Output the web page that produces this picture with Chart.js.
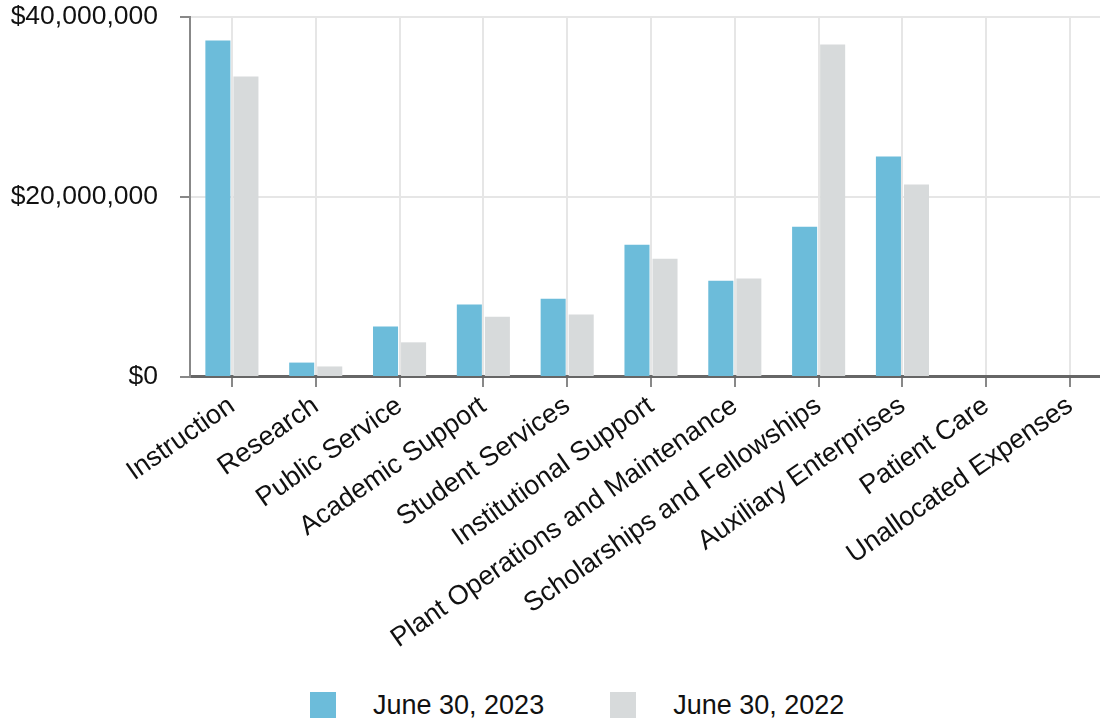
<!DOCTYPE html>
<html>
<head>
<meta charset="utf-8">
<script src="https://cdn.jsdelivr.net/npm/chart.js@4/dist/chart.umd.min.js"></script>
<style>
  html, body { margin: 0; padding: 0; background: #fff; overflow: hidden; width: 1100px; height: 723px; }
  #wrap { position: absolute; left: 0; top: 0; width: 1112px; height: 664px; }
  #legend { position: absolute; left: 310px; top: 692px; display: flex; align-items: center;
            font-family: "Liberation Sans", Arial, sans-serif; font-size: 27px; color: #111; }
  .box { width: 26px; height: 26px; margin-right: 37px; }
  .item { display: flex; align-items: center; margin-right: 66px; line-height: 26px; }
</style>
</head>
<body>
<div id="wrap"><canvas id="chart"></canvas></div>
<div id="legend"></div>
<script>
var categories = [
    'Instruction', 'Research', 'Public Service', 'Academic Support', 'Student Services',
    'Institutional Support', 'Plant Operations and Maintenance', 'Scholarships and Fellowships',
    'Auxiliary Enterprises', 'Patient Care', 'Unallocated Expenses'
];
var fy2023 = [37400000, 1600000, 5600000, 8050000, 8700000, 14700000, 10700000, 16700000, 24500000, 0, 0];
var fy2022 = [33400000, 1170000, 3850000, 6700000, 6950000, 13150000, 10950000, 36950000, 21400000, 0, 0];
var yTicks = [0, 20000000, 40000000];

var blue = 'rgb(108, 188, 218)';
var grey = 'rgb(215, 218, 219)';
var font = '"Liberation Sans", Arial, sans-serif';

const data = {
    labels: categories,
    datasets: [
        { label: 'June 30, 2023', backgroundColor: blue, data: fy2023 },
        { label: 'June 30, 2022', backgroundColor: grey, data: fy2022 }
    ]
};

const config = {
    type: 'bar',
    data: data,
    options: {
        responsive: true,
        maintainAspectRatio: false,
        animation: false,
        datasets: { bar: { categoryPercentage: 0.669, barPercentage: 0.893 } },
        layout: { padding: { left: 10, top: 17, right: 0, bottom: 6 } },
        plugins: { legend: { display: false }, tooltip: { enabled: false } },
        scales: {
            x: {
                grid: { offset: false, color: '#e6e6e6', lineWidth: 2, tickColor: '#888', tickLength: 10 },
                border: { color: '#666', width: 3 },
                ticks: {
                    color: '#111', font: { family: font, size: 27 },
                    minRotation: 35, maxRotation: 35, autoSkip: false, padding: 3
                }
            },
            y: {
                min: 0, max: 40000000,
                afterBuildTicks: function (scale) { scale.ticks = yTicks.map(v => ({ value: v })); },
                afterFit: function (scale) {
                    scale.width = 180;
                    scale.paddingTop = 0;
                    scale.paddingBottom = 0;
                },
                grid: { color: '#e6e6e6', lineWidth: 2, tickColor: '#888', tickLength: 10 },
                border: { color: '#888', width: 2 },
                ticks: {
                    color: '#111', font: { family: font, size: 26.5 }, padding: 22,
                    callback: function (v) { return '$' + v.toLocaleString('en-US'); }
                }
            }
        }
    }
};

const chart = new Chart(document.getElementById('chart'), config);

var legend = document.getElementById('legend');
for (ds of data.datasets) {
    var item = document.createElement('div');
    item.className = 'item';
    item.innerHTML = '<div class="box" style="background:' + ds.backgroundColor + '"></div><span>' + ds.label + '</span>';
    legend.appendChild(item);
}
</script>
</body>
</html>
